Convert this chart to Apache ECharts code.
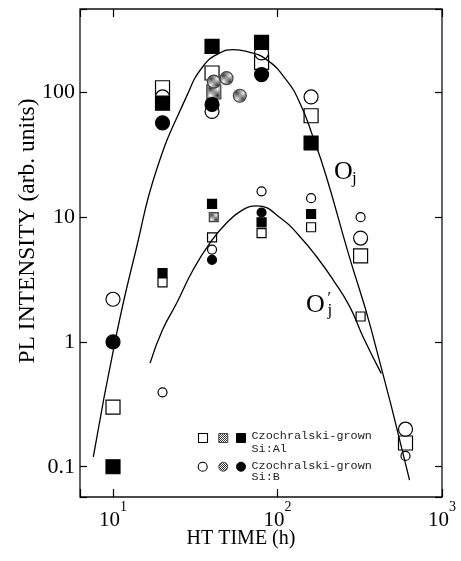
<!DOCTYPE html>
<html><head><meta charset="utf-8">
<script src="https://cdn.jsdelivr.net/npm/echarts@6/dist/echarts.min.js"></script>
<style>html,body{margin:0;padding:0;background:#fff}#c{width:461px;height:561px}</style>
</head><body><div id="c"></div>
<script>
// ---- tick labels ----
const xTickExponents = ['1', '2', '3'];          // 10^1, 10^2, 10^3
const yTickLabels = ['0.1', '1', '10', '100'];   // 10^-1 .. 10^2

// ---- O_j group (large markers) : [HT time (h), PL intensity] ----
const ojOpenSquare   = [[10,0.30],[20,109],[40,143],[80,174],[160,65],[320,4.9],[600,0.155]];
const ojHatchSquare  = [[41,101]];
const ojFilledSquare = [[10,0.10],[20,82],[40,234],[80,252],[160,39.3]];
const ojOpenCircle   = [[10,2.2],[20,92],[40,70.4],[80,207],[160,92],[320,6.8],[600,0.20]];
const ojHatchCircle  = [[41,122],[49,130],[59,94]];
const ojFilledCircle = [[10,1.0],[20,57],[40,80],[80,139]];

// ---- O_j' group (small markers) ----
const ojpOpenSquare   = [[20,3.0],[40,6.9],[80,7.45],[160,8.3],[320,1.6]];
const ojpHatchSquare  = [[41,10.0]];
const ojpFilledSquare = [[20,3.57],[40,12.8],[80,9.1],[160,10.6]];
const ojpOpenCircle   = [[20,0.395],[40,5.5],[80,16.1],[160,14.2],[320,10.0],[600,0.122]];
const ojpFilledCircle = [[40,4.55],[80,10.9]];

// ---- fitted curves ----
const ojCurve = [[7.59,0.12],[10.5,1.15],[13.8,5.48],[18.4,24],[28,92.9],[35.3,162],
  [44.6,207],[53.8,220],[64.8,213],[85.8,183],[113,126],[137,82],[164,44.4],[198,21.2],[269,5.18],[372,1.25],[635,0.078]];
const ojpCurve = [[16.8,0.676],[20,1.25],[24.4,2.05],[30.7,3.79],[38.8,6.2],[49,8.97],[61.8,11.5],
  [74.6,12.3],[107.6,9.53],[136.6,7.0],[172.5,4.84],[217.6,3.15],[274.8,1.92],[330.9,1.10],[427,0.56]];

const SERIF = '"Liberation Serif","Times New Roman",serif';
const MONO = '"Liberation Mono","DejaVu Sans Mono",monospace';

function hatchCanvas() {
  const c = document.createElement('canvas');
  c.width = 2; c.height = 2;
  const g = c.getContext('2d');
  g.fillStyle = '#fff'; g.fillRect(0, 0, 2, 2);
  g.fillStyle = '#333'; g.fillRect(0, 0, 1, 1); g.fillRect(1, 1, 1, 1);
  return c;
}
const hatch = { image: hatchCanvas(), repeat: 'repeat' };

const XMIN = 6.30, XMAX = 1000, YMIN = 0.0572, YMAX = 466;

function isPow10(v) { const e = Math.log10(v); return Math.abs(e - Math.round(e)) < 1e-6; }

const chart = echarts.init(document.getElementById('c'), null, { renderer: 'canvas' });

const styles = {
  openSq:   { symbol: 'rect',   color: '#fff', borderColor: '#000' },
  hatchSq:  { symbol: 'rect',   color: hatch,  borderColor: '#444' },
  fillSq:   { symbol: 'rect',   color: '#000', borderColor: '#000' },
  openCi:   { symbol: 'circle', color: '#fff', borderColor: '#000' },
  hatchCi:  { symbol: 'circle', color: hatch,  borderColor: '#444' },
  fillCi:   { symbol: 'circle', color: '#000', borderColor: '#000' }
};
function sc(name, data, st, size) {
  return {
    name, type: 'scatter', data, symbol: st.symbol, symbolSize: size, z: 2,
    itemStyle: { color: st.color, borderColor: st.borderColor, borderWidth: 1.2, opacity: 1 },
    emphasis: { disabled: true }
  };
}
function curve(name, data) {
  return {
    name, type: 'line', data, smooth: 0.5, showSymbol: false, symbol: 'none', z: 5,
    lineStyle: { color: '#000', width: 1.3 }, emphasis: { disabled: true }
  };
}

const L = 14, S = 9;
const series = [
  sc('Oj open square', ojOpenSquare, styles.openSq, L),
  sc('Oj\' open square', ojpOpenSquare, styles.openSq, S),
  sc('Oj open circle', ojOpenCircle, styles.openCi, L),
  sc('Oj\' open circle', ojpOpenCircle, styles.openCi, S),
  sc('Oj hatched square', ojHatchSquare, styles.hatchSq, L),
  sc('Oj\' hatched square', ojpHatchSquare, styles.hatchSq, S),
  sc('Oj hatched circle', ojHatchCircle, styles.hatchCi, 13),
  sc('Oj filled square', ojFilledSquare, styles.fillSq, L),
  sc('Oj\' filled square', ojpFilledSquare, styles.fillSq, S),
  sc('Oj filled circle', ojFilledCircle, styles.fillCi, L),
  sc('Oj\' filled circle', ojpFilledCircle, styles.fillCi, S),
  curve('Oj curve', ojCurve),
  curve('Oj\' curve', ojpCurve)
];

const tickStyle = { color: '#000', width: 1.2 };

const option = {
  animation: false,
  backgroundColor: '#fff',
  grid: { left: 80, right: 19, top: 9, bottom: 64, show: true, borderColor: '#111', borderWidth: 1.3,
          backgroundColor: 'transparent', containLabel: false, outerBoundsMode: 'none' },
  xAxis: [
    { type: 'log', logBase: 10, min: XMIN, max: XMAX, position: 'bottom',
      axisLine: { show: false }, splitLine: { show: false }, minorTick: { show: false },
      axisTick: { show: true, inside: true, length: 8, lineStyle: tickStyle },
      axisLabel: { margin: 3, color: '#000', showMinLabel: true, showMaxLabel: true,
        formatter: v => {
          if (!isPow10(v)) return '';
          const e = Math.round(Math.log10(v));
          const s = xTickExponents[e - 1];
          return s === undefined ? '' : '{b|10}{s|' + s + '}';
        },
        rich: {
          b: { fontSize: 21, fontFamily: SERIF, color: '#000', lineHeight: 40 },
          s: { fontSize: 14, fontFamily: SERIF, color: '#000', verticalAlign: 'top', lineHeight: 14 }
        } } },
    { type: 'log', logBase: 10, min: XMIN, max: XMAX, position: 'top',
      axisLine: { show: false }, splitLine: { show: false }, axisLabel: { show: false },
      axisTick: { show: true, inside: true, length: 8, lineStyle: tickStyle } }
  ],
  yAxis: [
    { type: 'log', logBase: 10, min: YMIN, max: YMAX, position: 'left',
      axisLine: { show: false }, splitLine: { show: false }, minorTick: { show: false },
      axisTick: { show: true, inside: true, length: 7, lineStyle: tickStyle },
      axisLabel: { margin: 5, color: '#000', fontSize: 22, fontFamily: SERIF,
        formatter: v => {
          if (!isPow10(v)) return '';
          const e = Math.round(Math.log10(v));
          const s = yTickLabels[e + 1];
          return s === undefined ? '' : s;
        } } },
    { type: 'log', logBase: 10, min: YMIN, max: YMAX, position: 'right',
      axisLine: { show: false }, splitLine: { show: false }, axisLabel: { show: false },
      axisTick: { show: true, inside: true, length: 7, lineStyle: tickStyle } }
  ],
  graphic: [
    { type: 'text', x: 241, y: 539, silent: true,
      style: { text: 'HT TIME (h)', fontSize: 20, fontFamily: SERIF, fill: '#000', align: 'center', verticalAlign: 'middle' } },
    { type: 'text', x: 28, y: 231, rotation: Math.PI / 2, silent: true,
      style: { text: 'PL INTENSITY (arb. units)', fontSize: 23.5, fontFamily: SERIF, fill: '#000', align: 'center', verticalAlign: 'middle' } },
    // curve labels
    { type: 'text', x: 334, y: 172.5, silent: true,
      style: { text: 'O', fontSize: 26, fontFamily: SERIF, fill: '#000', align: 'left', verticalAlign: 'middle' } },
    { type: 'text', x: 352, y: 179, silent: true,
      style: { text: 'j', fontSize: 17, fontFamily: SERIF, fill: '#000', align: 'left', verticalAlign: 'middle' } },
    { type: 'text', x: 306, y: 305, silent: true,
      style: { text: 'O', fontSize: 26, fontFamily: SERIF, fill: '#000', align: 'left', verticalAlign: 'middle' } },
    { type: 'text', x: 327.5, y: 311, silent: true,
      style: { text: 'j', fontSize: 17, fontFamily: SERIF, fill: '#000', align: 'left', verticalAlign: 'middle' } },
    { type: 'text', x: 327.5, y: 299, silent: true,
      style: { text: '\u2032', fontSize: 16, fontFamily: SERIF, fill: '#000', align: 'left', verticalAlign: 'middle' } },
    // legend
    { type: 'rect', silent: true, shape: { x: 198.5, y: 433.5, width: 9, height: 9 },
      style: { fill: '#fff', stroke: '#000', lineWidth: 1.1 } },
    { type: 'rect', silent: true, shape: { x: 218.8, y: 433.5, width: 9, height: 9 },
      style: { fill: hatch, stroke: '#444', lineWidth: 1 } },
    { type: 'rect', silent: true, shape: { x: 236.5, y: 433.5, width: 9, height: 9 },
      style: { fill: '#000', stroke: '#000', lineWidth: 1 } },
    { type: 'circle', silent: true, shape: { cx: 202.7, cy: 466.7, r: 4.5 },
      style: { fill: '#fff', stroke: '#000', lineWidth: 1.1 } },
    { type: 'circle', silent: true, shape: { cx: 223.3, cy: 466.7, r: 4.5 },
      style: { fill: hatch, stroke: '#444', lineWidth: 1 } },
    { type: 'circle', silent: true, shape: { cx: 241, cy: 466.7, r: 4.5 },
      style: { fill: '#000', stroke: '#000', lineWidth: 1 } },
    { type: 'text', x: 251.5, y: 436, silent: true,
      style: { text: 'Czochralski-grown', fontSize: 11.8, fontFamily: MONO, fill: '#222', align: 'left', verticalAlign: 'middle' } },
    { type: 'text', x: 251.5, y: 448.5, silent: true,
      style: { text: 'Si:Al', fontSize: 11.8, fontFamily: MONO, fill: '#222', align: 'left', verticalAlign: 'middle' } },
    { type: 'text', x: 251.5, y: 465.5, silent: true,
      style: { text: 'Czochralski-grown', fontSize: 11.8, fontFamily: MONO, fill: '#222', align: 'left', verticalAlign: 'middle' } },
    { type: 'text', x: 251.5, y: 477, silent: true,
      style: { text: 'Si:B', fontSize: 11.8, fontFamily: MONO, fill: '#222', align: 'left', verticalAlign: 'middle' } }
  ],
  series
};
chart.setOption(option);
</script>
</body></html>
